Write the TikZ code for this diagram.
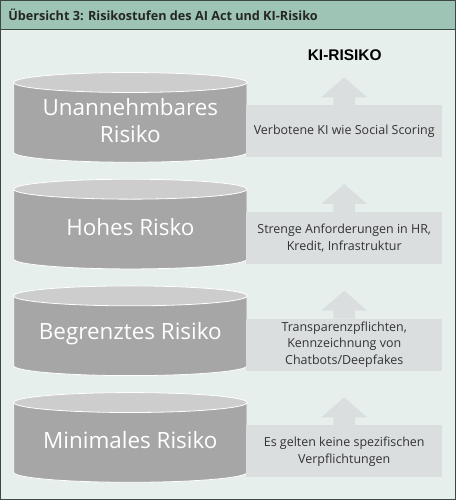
\documentclass[tikz,border=0pt]{standalone}
\usepackage{fontspec}
\setmainfont{Open Sans}
\newfontfamily\arialfont{Liberation Sans}
\usetikzlibrary{calc}

\definecolor{frameline}{HTML}{3B4843}
\definecolor{titlebar}{HTML}{9DC4B5}
\definecolor{panelbg}{HTML}{E6EFEC}
\definecolor{cylbody}{HTML}{A6A6A6}
\definecolor{cyltop}{HTML}{CDCDCD}
\definecolor{dutybox}{HTML}{DADEDF}

\begin{document}
\begin{tikzpicture}[x=1pt,y=1pt,
  leveltext/.style={text=white, font=\fontsize{22.5}{27}\selectfont, align=center},
  dutytext/.style={fill=dutybox, text=black!80, font=\fontsize{12.5}{17}\selectfont,
    align=center, minimum width=197pt, minimum height=52pt, inner sep=0pt}]
  \def\rx{117}    % half width of a cylinder
  \def\ry{10}     % half height of the ellipses
  \def\cylH{70}   % body height of a cylinder
  \def\gap{107}   % step from one level to the next
  % panel, title bar, frame
  \fill[panelbg] (0,0) rectangle (456,500);
  \fill[titlebar] (0,471) rectangle (456,500);
  \draw[frameline, line width=1pt] (0,471) -- (456,471);
  \draw[frameline, line width=1.5pt] (0,0) rectangle (456,500);
  \node[anchor=west, font=\fontsize{12.7}{14}\selectfont\bfseries, text=black!85]
    (title) at (4,485.5) {Übersicht 3: Risikostufen des AI Act und KI-Risiko};
  \node[font=\arialfont\bfseries\fontsize{15.5}{18}\selectfont] (kirisiko) at (345,445) {KI-RISIKO};
  % the four levels
  \foreach \i/\level/\duty in {
      0/{Unannehmbares\\Risiko}/{Verbotene KI wie Social Scoring},
      1/{Hohes Risko}/{Strenge Anforderungen in HR,\\Kredit, Infrastruktur},
      2/{Begrenztes Risiko}/{Transparenzpflichten,\\Kennzeichnung von\\Chatbots/Deepfakes},
      3/{Minimales Risiko}/{Es gelten keine spezifischen\\Verpflichtungen}}{
    \pgfmathsetmacro\yT{418-\gap*\i}
    \pgfmathsetmacro\yB{\yT-\cylH}
    \fill[cylbody, draw=white, line width=0.8pt] (130-\rx,\yT) -- (130-\rx,\yB)
      arc[start angle=180, end angle=360, x radius=\rx, y radius=\ry] -- (130+\rx,\yT) -- cycle;
    \filldraw[fill=cyltop, draw=white, line width=0.8pt] (130,\yT) ellipse[x radius=\rx, y radius=\ry];
    \node[leveltext] (level\i) at (130,\yT-38) {\level};
    \node[dutytext] (duty\i) at (344.5,\yT-49) {\duty};
    \fill[dutybox] ($(duty\i.north)+(-11,0)$) -- ++(0,8) -- ++(-12,0) -- ++(23,20)
      -- ++(23,-20) -- ++(-12,0) -- ++(0,-8) -- cycle;
  }
\end{tikzpicture}
\end{document}
